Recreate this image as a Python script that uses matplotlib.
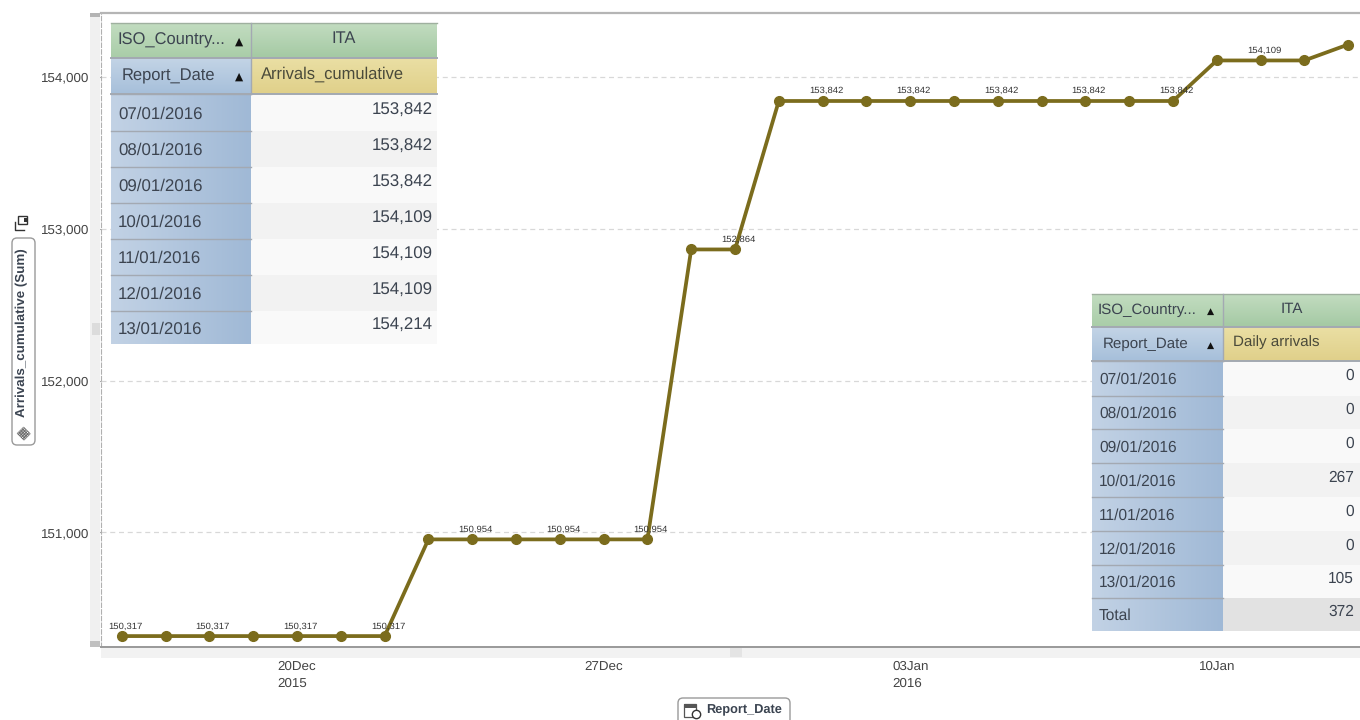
import numpy as np
import pandas as pd
import matplotlib
matplotlib.use("Agg")
import matplotlib.pyplot as plt
from matplotlib.colors import LinearSegmentedColormap
from matplotlib.patches import Rectangle, FancyBboxPatch
from matplotlib.ticker import FuncFormatter

plt.rcParams['font.family'] = ['Liberation Sans', 'DejaVu Sans']
plt.rcParams['text.hinting'] = 'no_hinting'

report_dates = pd.date_range('2015-12-16', '2016-01-13', freq='D')
arrivals = [150317]*7 + [150954]*6 + [152864]*2 + [153842]*10 + [154109]*3 + [154214]
label_every = 2
y_ticks = [151000, 152000, 153000, 154000]
x_tick_dates = pd.to_datetime(['2015-12-20', '2015-12-27', '2016-01-03', '2016-01-10'])
x_tick_labels = ['20Dec\n2015', '27Dec', '03Jan\n2016', '10Jan']

table_dates = ['07/01/2016', '08/01/2016', '09/01/2016', '10/01/2016',
               '11/01/2016', '12/01/2016', '13/01/2016']
cumulative_values = ['153,842', '153,842', '153,842', '154,109', '154,109', '154,109', '154,214']
daily_values = ['0', '0', '0', '267', '0', '0', '105']
daily_total = '372'

W, H = 1360, 720
fig = plt.figure(figsize=(W/100, H/100), dpi=100, facecolor='white')

def px_axes(l, t, r, b, **kw):
    return fig.add_axes([l/W, 1-b/H, (r-l)/W, (b-t)/H], **kw)

# main plot
ax = px_axes(101, 13, 1360, 647)
x0 = pd.Timestamp('2015-12-20')
day_px = 43.8
ax.set_xlim(x0 - pd.Timedelta(days=(297-101)/day_px), x0 + pd.Timedelta(days=(1360-297)/day_px))
px_per_unit = 151.8/1000
ax.set_ylim(154000-(647-77)/px_per_unit, 154000+(77-13)/px_per_unit)
ax.yaxis.grid(True, color='#d8d8d8', linestyle=(0, (4, 3)), linewidth=0.9)
ax.set_axisbelow(True)
ax.plot(report_dates, arrivals, color='#7b6c1d', linewidth=2.7, marker='o', markersize=7.0,
        markerfacecolor='#7b6c1d', markeredgecolor='#7b6c1d', zorder=3, clip_on=False)
# the reference's last point (13 Jan) carries no visible label
for d, v in list(zip(report_dates, arrivals))[:-1][::label_every]:
    ax.annotate(f'{v:,}', (d, v), xytext=(2.5, 4.2), textcoords='offset points', ha='center', va='bottom',
                fontsize=6.8, color='#333333', zorder=4)
ax.set_yticks(y_ticks)
ax.yaxis.set_major_formatter(FuncFormatter(lambda v, _: f'{int(v):,}'))
ax.set_xticks(x_tick_dates)
ax.set_xticklabels(x_tick_labels, linespacing=1.55, ha='center')
ax.tick_params(axis='y', length=7, width=0.8, color='#aaaaaa', labelcolor='#444444', labelsize=9.6, pad=1.6)
ax.tick_params(axis='x', length=5, width=0.8, color='#888888', labelcolor='#444444', labelsize=9.6, pad=4.5)
for lab in ax.get_xticklabels():
    lab.set_multialignment('left')
ax.spines['right'].set_visible(False)
ax.spines['top'].set_color('#b5b5b5')
ax.spines['top'].set_linewidth(1.6)
ax.spines['bottom'].set_color('#999999')
ax.spines['bottom'].set_linewidth(1.4)
ax.spines['left'].set_color('#b0b0b0')
ax.spines['left'].set_linestyle((0, (4, 2)))

# overlay in pixel coordinates
ov = px_axes(0, 0, W, H, zorder=10)
ov.set_xlim(0, W)
ov.set_ylim(H, 0)
ov.axis('off')
ov.patch.set_alpha(0)

def rect(x0, y0, x1, y1, c, ec='none', lw=0, z=1):
    ov.add_patch(Rectangle((x0, y0), x1-x0, y1-y0, facecolor=c, edgecolor=ec, linewidth=lw, zorder=z))

def grad(x0, y0, x1, y1, c0, c1, vertical=True, z=1):
    cm = LinearSegmentedColormap.from_list('g', [c0, c1])
    arr = np.linspace(0, 1, 64)
    arr = arr[:, None] if vertical else arr[None, :]
    ov.imshow(arr, extent=(x0, x1, y1, y0), cmap=cm, aspect='auto', zorder=z, origin='upper')

def table(xs, ys, title, measure, dates, values, fs, right_inset, total=None):
    a, b, c = xs
    GRID = '#a3a9b2'
    TXT = '#3c4450'
    grad(a, ys[0], b, ys[1], '#c2dcc0', '#a9cda8')
    grad(b, ys[0], c, ys[1], '#c2dcc0', '#a4c9a3')
    grad(a, ys[1], b, ys[2], '#c3d4e6', '#a6bfda')
    grad(b, ys[1], c, ys[2], '#eadfa4', '#e0d08a')
    n = len(ys) - 3
    for i in range(n):
        y0, y1 = ys[i+2], ys[i+3]
        grad(a, y0, b, y1, '#c2d2e5', '#a0b9d6', vertical=False)
        is_total = total is not None and i == n-1
        col = '#e2e2e2' if is_total else ('#f9f9f9' if i % 2 == 0 else '#f2f2f2')
        rect(b, y0, c, y1, col)
        ov.plot([a, b], [y0, y0], color=GRID, lw=1.0, zorder=2)
        name = 'Total' if is_total else dates[i]
        val = total if is_total else values[i]
        ov.text(a+7, (y0+y1)/2+1.5, name, fontsize=fs, color=TXT, ha='left', va='center', zorder=3)
        ov.text(c-right_inset, (y0+y1)/2-2.5, val, fontsize=fs, color=TXT, ha='right', va='center', zorder=3)
    ov.plot([a, c], [ys[0], ys[0]], color='#9fb09f', lw=1.0, zorder=2)
    ov.plot([a, c], [ys[1], ys[1]], color=GRID, lw=1.4, zorder=2)
    ov.plot([a, c], [ys[2], ys[2]], color=GRID, lw=1.4, zorder=2)
    ov.plot([b, b], [ys[0], ys[2]], color=GRID, lw=1.0, zorder=2)
    ov.text(a+6, (ys[0]+ys[1])/2, title, fontsize=fs-0.3, color=TXT, ha='left', va='center', zorder=3)
    ov.text(a+11, (ys[1]+ys[2])/2, 'Report_Date', fontsize=fs-0.3, color=TXT, ha='left', va='center', zorder=3)
    ov.text((b+c)/2, (ys[0]+ys[1])/2-1.5, 'ITA', fontsize=fs-0.3, color=TXT, ha='center', va='center', zorder=3)
    ov.text(b+10, (ys[1]+ys[2])/2-2, measure, fontsize=fs-0.3, color='#4a4a3a', ha='left', va='center', zorder=3)
    for k in (0, 1):
        ov.text(b-12, (ys[k]+ys[k+1])/2+1, '\u25b2', fontsize=fs-4.5, color='#111111', ha='center', va='center',
                family='DejaVu Sans', zorder=3)

table((111, 251, 437), [23, 58, 94, 131, 167, 203, 239, 275, 311, 344],
      'ISO_Country...', 'Arrivals_cumulative', table_dates, cumulative_values, 12.2, 4)
table((1092, 1223, 1360), [294, 327, 361, 396, 429, 463, 497, 531, 565, 598, 631],
      'ISO_Country...', 'Daily arrivals', table_dates, daily_values, 11.2, 6, total=daily_total)

# chrome: scrollbars
rect(90, 13, 100, 647, '#f0f0f0', z=0.5)
rect(90, 13, 100, 17, '#b4b4b4', z=0.6)
rect(90, 641, 100, 647, '#c0c0c0', z=0.6)
rect(92, 323, 100, 335, '#dcdcdc', z=0.6)
rect(101, 648, 1360, 658, '#f2f2f2', z=0.5)
rect(730, 648, 742, 657, '#e4e4e4', z=0.6)

# axis field pills
ov.add_patch(FancyBboxPatch((12, 238), 23, 207, boxstyle='round,pad=0,rounding_size=5',
                            facecolor='white', edgecolor='#9a9a9a', linewidth=1.0, zorder=3))
ov.text(22, 333, 'Arrivals_cumulative (Sum)', rotation=90, fontsize=9.6, fontweight='bold',
        color='#3a4350', ha='center', va='center', zorder=4)
ov.text(23, 432, '\u25a6', rotation=45, fontsize=9, color='#444444', ha='center', va='center',
        family='DejaVu Sans', zorder=4)
ov.plot([15, 15, 24], [222, 230, 230], color='#333333', lw=1.0, zorder=4)
rect(18, 216, 27, 224, 'white', ec='#333333', lw=1.0, z=4)
rect(24, 218, 27, 222, '#333333', z=4.1)

ov.add_patch(FancyBboxPatch((678, 698), 112, 30, boxstyle='round,pad=0,rounding_size=5',
                            facecolor='white', edgecolor='#9a9a9a', linewidth=1.0, zorder=3))
ov.text(706, 710, 'Report_Date', fontsize=9.2, fontweight='bold', color='#3a4350', ha='left', va='center', zorder=4)
rect(684, 704, 696, 717, 'white', ec='#555555', lw=0.9, z=4)
rect(684, 704, 696, 708, '#555555', z=4.1)
ov.plot([696], [714], marker='o', markersize=6, markerfacecolor='white', markeredgecolor='#333333', zorder=4.2)

ov.set_xlim(0, W)
ov.set_ylim(H, 0)
fig.savefig('out.png', dpi=100, facecolor='white')
